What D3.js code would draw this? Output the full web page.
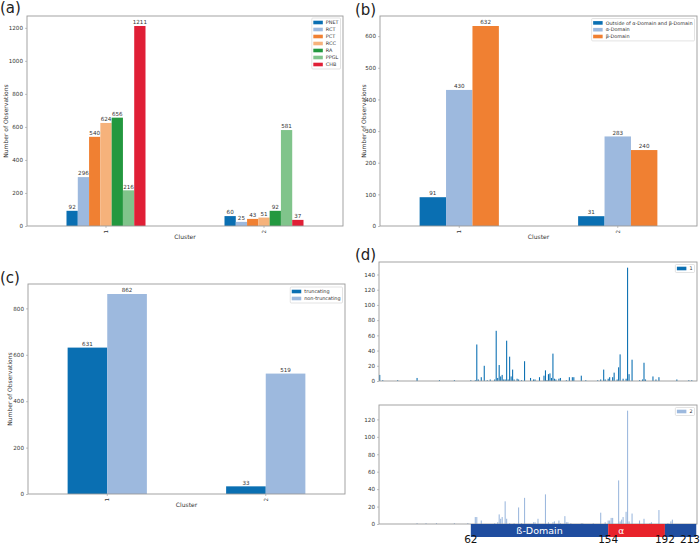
<!DOCTYPE html>
<html><head><meta charset="utf-8">
<script src="https://cdn.jsdelivr.net/npm/d3@7"></script>
<style>body{margin:0;background:#fff}svg{display:block}text{font-family:"DejaVu Sans",sans-serif}</style>
</head><body>
<svg id="c" width="700" height="544"></svg>
<script>
// ---------- DATA ----------
const clusters = ["1", "2"];
const tumorTypes = ["PNET", "RCT", "PCT", "RCC", "RA", "PPGL", "CHB"];
const tumorCluster1 = [92, 296, 540, 624, 656, 216, 1211];
const tumorCluster2 = [60, 25, 43, 51, 92, 581, 37];
const tumorTicks = [0, 200, 400, 600, 800, 1000, 1200];

const domainTypes = ["Outside of α-Domain and β-Domain", "α-Domain", "β-Domain"];
const domainCluster1 = [91, 430, 632];
const domainCluster2 = [31, 283, 240];
const domainTicks = [0, 100, 200, 300, 400, 500, 600];

const mutTypes = ["truncating", "non-truncating"];
const mutCluster1 = [631, 862];
const mutCluster2 = [33, 519];
const mutTicks = [0, 200, 400, 600, 800];

const pos1 = [1,3,13,26,41,51,62,65,66,67,69,71,73,75,78,79,80,81,82,83,84,85,86,87,88,89,90,91,93,94,96,98,102,104,105,108,111,112,113,114,115,116,117,118,119,121,122,126,128,130,131,136,139,147,149,151,152,154,155,157,158,160,161,162,164,166,167,168,170,175,177,178,179,184,186,188,200,208,210];
const cnt1 = [8,1,1,4,1,1,1,1,48,2,5,20,1,2,2,66,4,21,6,8,2,2,53,2,32,6,15,2,3,2,1,26,4,2,2,5,7,14,1,9,10,4,36,3,2,3,4,1,5,5,5,7,1,1,2,15,2,3,5,5,11,2,18,35,3,3,149,9,28,1,2,24,2,6,2,5,2,1,1];
const pos1Ticks = [0, 20, 40, 60, 80, 100, 120, 140];

const pos2 = [26,32,39,51,60,65,66,69,78,80,81,82,83,85,86,88,91,94,96,98,104,105,107,112,114,117,118,121,122,125,126,127,129,136,137,144,149,152,154,155,156,157,161,162,163,164,166,167,168,170,175,178,182,183,188,194,196,197];
const cnt2 = [1,1,1,1,1,8,8,4,1,2,11,6,8,26,6,1,1,19,1,30,2,2,6,34,2,2,3,4,1,9,2,2,1,1,1,1,13,2,4,4,7,7,50,3,5,8,14,130,3,12,4,6,1,2,16,1,3,5];
const pos2Ticks = [0, 20, 40, 60, 80, 100, 120];

const regionStart = [62, 154, 192];
const regionEnd = [154, 192, 213];
const regionLabel = ["ß-Domain", "α", ""];
const regionMarks = [62, 154, 192, 213];

// ---------- STYLE ----------
const C = {
  blue: "#0a6fb2", lblue: "#9db9de", orange: "#f08032", lorange: "#f6b27b",
  green: "#23983f", lgreen: "#80c48b", red: "#e01f36"
};
const tumorColors = [C.blue, C.lblue, C.orange, C.lorange, C.green, C.lgreen, C.red];
const domainColors = [C.blue, C.lblue, C.orange];
const mutColors = [C.blue, C.lblue];
const FS = 5.6, LFS = 4.9, TXT = "#333", SPINE = "#9a9a9a";

const svg = d3.select("#c");

function frame(g, L, R, T, B) {
  g.append("rect").attr("x", L).attr("y", T).attr("width", R - L).attr("height", B - T)
    .attr("fill", "none").attr("stroke", SPINE).attr("stroke-width", 0.9);
}

function yAxis(g, y, L, ticks) {
  const ax = g.append("g").attr("transform", `translate(${L},0)`)
    .call(d3.axisLeft(y).tickValues(ticks).tickSize(2).tickPadding(2).tickFormat(d3.format("d")));
  ax.select(".domain").remove();
  ax.selectAll("line").attr("stroke", SPINE).attr("stroke-width", 0.6);
  ax.selectAll("text").attr("font-size", FS).attr("fill", TXT).attr("font-family", "DejaVu Sans");
}

// legend anchored at its right edge xr
function legend(g, xr, y0, names, colors, dy) {
  const h = names.length * dy + 2;
  const box = g.append("rect").attr("y", y0).attr("height", h)
    .attr("fill", "#fff").attr("stroke", "#d0d0d0").attr("stroke-width", 0.6).attr("rx", 1);
  const it = g.selectAll(null).data(names).join("g");
  it.append("rect").attr("x", 0).attr("y", -1.8).attr("width", 9.5).attr("height", 3.6)
    .attr("fill", (d, i) => colors[i]);
  const tx = it.append("text").attr("x", 12.5).attr("y", 0).attr("dy", "0.35em")
    .attr("font-size", LFS).attr("fill", TXT).text(d => d);
  let tw = 0;
  tx.each(function () { tw = Math.max(tw, this.getComputedTextLength()); });
  const w = tw + 16;
  const x0 = xr - w;
  box.attr("x", x0).attr("width", w);
  it.attr("transform", (d, i) => `translate(${x0 + 1.5},${y0 + 1 + dy * i + dy / 2})`);
}

function groupedPanel(o) {
  const g = svg.append("g");
  const x = d3.scaleLinear().domain([-0.5, 1.5]).range([o.L, o.R]);
  const y = d3.scaleLinear().domain([0, o.ymax]).range([o.B, o.T]);
  const n = o.series.length, w = 0.5 / n;
  const rows = [];
  o.data.forEach((vals, ci) => vals.forEach((v, si) => rows.push({ ci, si, v, x0: ci - 0.25 + si * w })));
  g.selectAll(null).data(rows).join("rect")
    .attr("x", d => x(d.x0)).attr("width", d => x(d.x0 + w) - x(d.x0))
    .attr("y", d => y(d.v)).attr("height", d => y(0) - y(d.v))
    .attr("fill", d => o.colors[d.si]);
  g.selectAll(null).data(rows).join("text")
    .attr("x", d => x(d.x0 + w / 2)).attr("y", d => y(d.v) - 1.8)
    .attr("text-anchor", "middle").attr("font-size", FS).attr("fill", TXT).text(d => d.v);
  frame(g, o.L, o.R, o.T, o.B);
  yAxis(g, y, o.L, o.ticks);
  g.selectAll(null).data(clusters).join("line")
    .attr("x1", (d, i) => x(i)).attr("x2", (d, i) => x(i)).attr("y1", o.B).attr("y2", o.B + 2)
    .attr("stroke", SPINE).attr("stroke-width", 0.6);
  g.selectAll(null).data(clusters).join("text")
    .attr("transform", (d, i) => `translate(${x(i) + 1.8},${o.B + 4}) rotate(-90)`)
    .attr("text-anchor", "end").attr("font-size", FS).attr("fill", TXT).text(d => d);
  g.append("text").attr("x", (o.L + o.R) / 2).attr("y", o.B + 13).attr("text-anchor", "middle")
    .attr("font-size", 6).attr("fill", TXT).text("Cluster");
  g.append("text").attr("transform", `translate(${o.ylabX},${(o.T + o.B) / 2}) rotate(-90)`)
    .attr("text-anchor", "middle").attr("font-size", 6).attr("fill", TXT).text("Number of Observations");
  legend(g, o.R - 2.5, o.legY, o.series, o.colors, o.legDy);
  svg.append("text").attr("x", o.labX).attr("y", o.labY).attr("font-family", "Liberation Sans")
    .attr("font-size", 15).attr("fill", "#222").text(o.label);
}

groupedPanel({ L: 27, R: 343, T: 16, B: 226, ymax: 1211 * 1.05, ticks: tumorTicks,
  series: tumorTypes, data: [tumorCluster1, tumorCluster2], colors: tumorColors,
  ylabX: 8, legY: 18, legDy: 7.0, label: "(a)", labX: 0, labY: 13 });

groupedPanel({ L: 380, R: 697, T: 16, B: 226, ymax: 632 * 1.05, ticks: domainTicks,
  series: domainTypes, data: [domainCluster1, domainCluster2], colors: domainColors,
  ylabX: 366, legY: 18.5, legDy: 6.8, label: "(b)", labX: 355, labY: 15 });

groupedPanel({ L: 28, R: 345, T: 284, B: 494, ymax: 862 * 1.05, ticks: mutTicks,
  series: mutTypes, data: [mutCluster1, mutCluster2], colors: mutColors,
  ylabX: 12, legY: 287, legDy: 7.0, label: "(c)", labX: 0, labY: 283 });

// ---------- panel (d) ----------
svg.append("text").attr("x", 355).attr("y", 260).attr("font-family", "Liberation Sans")
  .attr("font-size", 15).attr("fill", "#222").text("(d)");

const xd = d3.scaleLinear().domain([0.5, 213.5]).range([379, 697]);
const bw = 0.72;

function posPanel(T, B, ymax, positions, counts, ticks, color, name) {
  const g = svg.append("g");
  const y = d3.scaleLinear().domain([0, ymax]).range([B, T]);
  const rows = positions.map((p, i) => ({ p, v: counts[i] }));
  g.selectAll(null).data(rows).join("rect")
    .attr("x", d => xd(d.p - bw / 2)).attr("width", d => xd(d.p + bw / 2) - xd(d.p - bw / 2))
    .attr("y", d => y(d.v)).attr("height", d => y(0) - y(d.v)).attr("fill", color);
  frame(g, 379, 697, T, B);
  yAxis(g, y, 379, ticks);
  legend(g, 694.5, T + 2.5, [name], [color], 6);
}

posPanel(262, 381, 149 * 1.05, pos1, cnt1, pos1Ticks, C.blue, clusters[0]);
posPanel(405, 524, 130 * 1.05, pos2, cnt2, pos2Ticks, C.lblue, clusters[1]);

// domain bar
const gd = svg.append("g");
const regColors = ["#1f4d9f", "#e8232b", "#1f4d9f"];
gd.selectAll(null).data(regionStart).join("rect")
  .attr("x", (d, i) => xd(d)).attr("width", (d, i) => xd(regionEnd[i]) - xd(d))
  .attr("y", 524).attr("height", 13).attr("fill", (d, i) => regColors[i]);
gd.append("text").attr("x", (xd(regionStart[0]) + xd(regionEnd[0])) / 2).attr("y", 531)
  .attr("dy", "0.35em").attr("text-anchor", "middle").attr("font-family", "Liberation Sans")
  .attr("font-size", 9.5).attr("fill", "#fff").text(regionLabel[0]);
gd.append("text").attr("x", xd(regionStart[1]) + 13).attr("y", 531)
  .attr("dy", "0.35em").attr("text-anchor", "middle").attr("font-family", "Liberation Sans")
  .attr("font-size", 9).attr("fill", "#fff").text(regionLabel[1]);
gd.selectAll(null).data(regionMarks).join("text")
  .attr("x", (d, i) => i === regionMarks.length - 1 ? 700 : xd(d))
  .attr("y", 542.5).attr("text-anchor", (d, i) => i === regionMarks.length - 1 ? "end" : "middle")
  .attr("font-family", "Liberation Sans").attr("font-size", 10.5).attr("fill", "#111").text(d => d);
</script>
</body></html>
